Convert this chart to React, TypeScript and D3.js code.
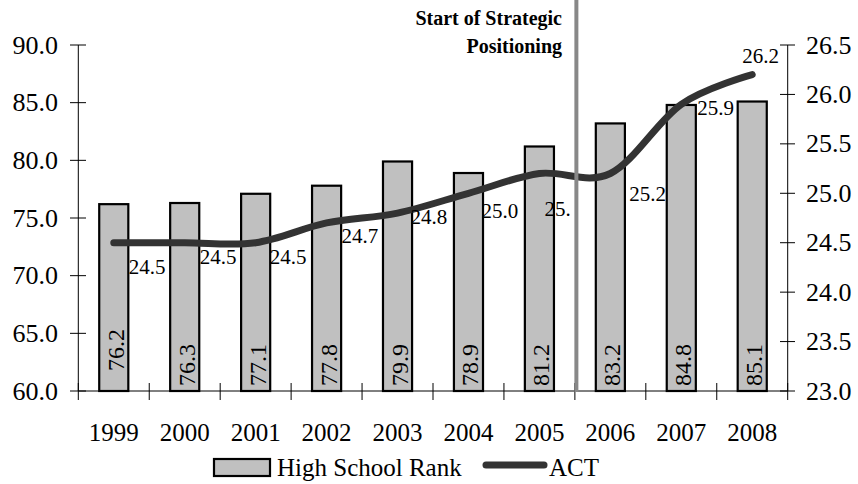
import React from "react";
import * as d3 from "d3";

const years = ["1999", "2000", "2001", "2002", "2003", "2004", "2005", "2006", "2007", "2008"];
const rankValues = [76.2, 76.3, 77.1, 77.8, 79.9, 78.9, 81.2, 83.2, 84.8, 85.1];
const actValues = [24.5, 24.5, 24.5, 24.7, 24.8, 25.0, 25.2, 25.2, 25.9, 26.2];
const actLabels = ["24.5", "24.5", "24.5", "24.7", "24.8", "25.0", "25.", "25.2", "25.9", "26.2"];
const leftTicks = [60, 65, 70, 75, 80, 85, 90];
const rightTicks = [23.0, 23.5, 24.0, 24.5, 25.0, 25.5, 26.0, 26.5];
const markerAfterIndex = 6; // vertical line between 2005 and 2006

// layout nudges for ACT labels (as placed in the original)
const labelNudge: [number, number][] = [
  [15, 31], [15, 21], [14, 21], [15, 20], [13, 11],
  [13, 25], [5, 42], [19, 27], [16, 11], [-10, -12],
];

const W = 858, H = 484;
const L = 78.3, R = 787.7, T = 45, B = 391;
const SERIF = '"Liberation Serif"';

export default function App() {
  const x = d3.scaleBand<string>().domain(years).range([L, R]).paddingInner(0.59).paddingOuter(0.295);
  const step = (R - L) / years.length;
  const yL = d3.scaleLinear().domain([60, 90]).range([B, T]);
  const yR = d3.scaleLinear().domain([23, 26.5]).range([B, T]);
  const cx = (d: string) => (x(d) as number) + x.bandwidth() / 2;

  const line = d3
    .line<number>()
    .x((_, i) => cx(years[i]))
    .y((v) => yR(v))
    .curve(d3.curveCardinal.tension(0));

  const markerX = L + step * (markerAfterIndex + 1) + 1.5;
  const ts = { fontFamily: SERIF } as React.CSSProperties;

  return (
    <svg width={W} height={H} style={{ position: "absolute", left: 0, top: 0, background: "#fff" }}>
      {/* bars */}
      {rankValues.map((v, i) => (
        <rect
          key={"b" + i}
          x={x(years[i])}
          y={yL(v)}
          width={x.bandwidth()}
          height={B - yL(v)}
          fill="#c0c0c0"
          stroke="#000"
          strokeWidth={2.2}
        />
      ))}
      {/* bar labels */}
      {rankValues.map((v, i) => (
        <text
          key={"bl" + i}
          style={ts}
          transform={`translate(${cx(years[i]) + 10},${i === 0 ? 371 : 386}) rotate(-90)`}
          fontSize={24}
          fill="#000"
        >
          {v.toFixed(1)}
        </text>
      ))}
      {/* axes */}
      <line x1={L} x2={L} y1={T} y2={B} stroke="#000" strokeWidth={1} />
      <line x1={R} x2={R} y1={T} y2={B} stroke="#000" strokeWidth={1} />
      <line x1={L} x2={R} y1={B} y2={B} stroke="#000" strokeWidth={1} />
      {leftTicks.map((t) => (
        <g key={"lt" + t}>
          <line x1={70} x2={86} y1={yL(t)} y2={yL(t)} stroke="#000" strokeWidth={1} />
          <text style={ts} x={58} y={yL(t) + 8.5} textAnchor="end" fontSize={26}>
            {t.toFixed(1)}
          </text>
        </g>
      ))}
      {rightTicks.map((t) => (
        <g key={"rt" + t}>
          <line x1={780} x2={795} y1={yR(t)} y2={yR(t)} stroke="#000" strokeWidth={1} />
          <text style={ts} x={806} y={yR(t) + 8.5} textAnchor="start" fontSize={26}>
            {t.toFixed(1)}
          </text>
        </g>
      ))}
      {d3.range(years.length + 1).map((i) => (
        <line key={"xt" + i} x1={L + step * i} x2={L + step * i} y1={383} y2={400} stroke="#000" strokeWidth={1} />
      ))}
      {years.map((yv) => (
        <text style={ts} key={"yl" + yv} x={cx(yv)} y={441} textAnchor="middle" fontSize={25}>
          {yv}
        </text>
      ))}
      {/* ACT line */}
      <path d={line(actValues) || ""} fill="none" stroke="#333333" strokeWidth={7} strokeLinecap="round" />
      {/* marker line */}
      <line x1={markerX} x2={markerX} y1={0} y2={B + 1} stroke="#888888" strokeWidth={4} />
      {/* ACT labels */}
      {actValues.map((v, i) => (
        <text
          key={"al" + i}
          style={ts}
          x={cx(years[i]) + labelNudge[i][0]}
          y={yR(v) + labelNudge[i][1]}
          fontSize={21}
          fill="#000"
        >
          {actLabels[i]}
        </text>
      ))}
      {/* annotation */}
      <text style={ts} x={562} y={25} textAnchor="end" fontSize={20} fontWeight="bold">
        Start of Strategic
      </text>
      <text style={ts} x={562} y={53} textAnchor="end" fontSize={20} fontWeight="bold">
        Positioning
      </text>
      {/* legend */}
      <rect x={214} y={459} width={56} height={17} fill="#c0c0c0" stroke="#000" strokeWidth={2.2} />
      <text style={ts} x={277} y={476} fontSize={25}>
        High School Rank
      </text>
      <line x1={486} x2={544} y1={465} y2={465} stroke="#333333" strokeWidth={7} strokeLinecap="round" />
      <text style={ts} x={549} y={476} fontSize={25}>
        ACT
      </text>
    </svg>
  );
}
